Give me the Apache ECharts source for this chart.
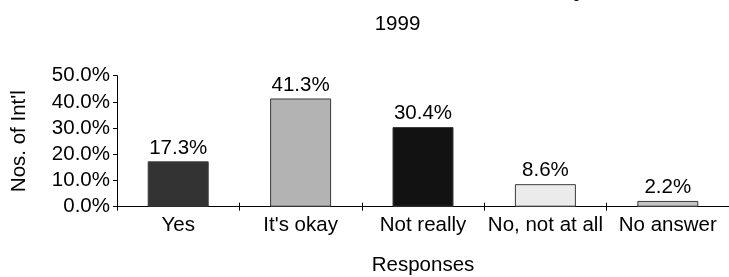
<!DOCTYPE html>
<html>
<head>
<meta charset="utf-8">
<script src="https://cdn.jsdelivr.net/npm/echarts@6/dist/echarts.min.js"></script>
<style>
html,body{margin:0;padding:0;background:#fff;}
#chart{width:729px;height:277px;}
</style>
</head>
<body>
<div id="chart"></div>
<script>
var categories = ["Yes", "It's okay", "Not really", "No, not at all", "No answer"];
var values = [17.3, 41.3, 30.4, 8.6, 2.2];
var barColors = ["#333333", "#b3b3b3", "#121212", "#ebebeb", "#c4c4c4"];
var yTicks = [0, 10, 20, 30, 40, 50];
var titleText = "Is the course satisfactory";
var subtitleText = "1999";
var xName = "Responses";
var yName = "Nos. of Int'l";

var FONT = "'Liberation Sans', Arial, sans-serif";
var FS = 20.5;
var chart = echarts.init(document.getElementById('chart'), null, {renderer: 'canvas'});
var option = {
  animation: false,
  backgroundColor: '#ffffff',
  textStyle: {fontFamily: FONT},
  graphic: [
    {type: 'text', x: 586, y: 1, style: {text: titleText, font: "bold 23px " + FONT, fill: '#000', align: 'right', verticalAlign: 'bottom'}},
    {type: 'text', x: 397.5, y: 24.5, style: {text: subtitleText, font: FS + "px " + FONT, fill: '#000', align: 'center', verticalAlign: 'middle'}}
  ],
  grid: {left: 117, right: -5.5, top: 75.7, bottom: 70.3, containLabel: false},
  xAxis: [{
    type: 'category',
    data: categories,
    name: xName,
    nameLocation: 'middle',
    nameGap: 48,
    nameTextStyle: {fontSize: FS, color: '#000', fontFamily: FONT},
    axisLine: {show: true, lineStyle: {color: '#000', width: 1}},
    axisTick: {show: true, length: 4, alignWithLabel: false, lineStyle: {color: '#000'}},
    axisLabel: {fontSize: FS, color: '#000', margin: 8, fontFamily: FONT, interval: 0},
    splitLine: {show: false}
  }, {
    type: 'category',
    data: categories,
    position: 'bottom',
    axisLine: {show: false},
    axisTick: {show: true, inside: true, length: 4, lineStyle: {color: '#000'}},
    axisLabel: {show: false},
    splitLine: {show: false}
  }],
  yAxis: {
    type: 'value',
    min: yTicks[0],
    max: yTicks[yTicks.length - 1],
    interval: 10,
    name: yName,
    nameLocation: 'middle',
    nameGap: 87,
    nameRotate: 90,
    nameTextStyle: {fontSize: FS, color: '#000', fontFamily: FONT},
    axisLine: {show: true, lineStyle: {color: '#000', width: 1}},
    axisTick: {show: true, length: 4, lineStyle: {color: '#000'}},
    axisLabel: {fontSize: FS, color: '#000', margin: 7, fontFamily: FONT, formatter: function (v) { return v.toFixed(1) + '%'; }},
    splitLine: {show: false}
  },
  series: [{
    type: 'bar',
    xAxisIndex: 0,
    barWidth: 61,
    data: values.map(function (v, i) {
      return {value: v, itemStyle: {color: barColors[i], borderColor: '#3a3a3a', borderWidth: 1}};
    }),
    label: {show: true, position: 'top', distance: 3, fontSize: FS, color: '#000', fontFamily: FONT,
      formatter: function (p) { return p.value.toFixed(1) + '%'; }}
  }]
};
chart.setOption(option);
</script>
</body>
</html>
